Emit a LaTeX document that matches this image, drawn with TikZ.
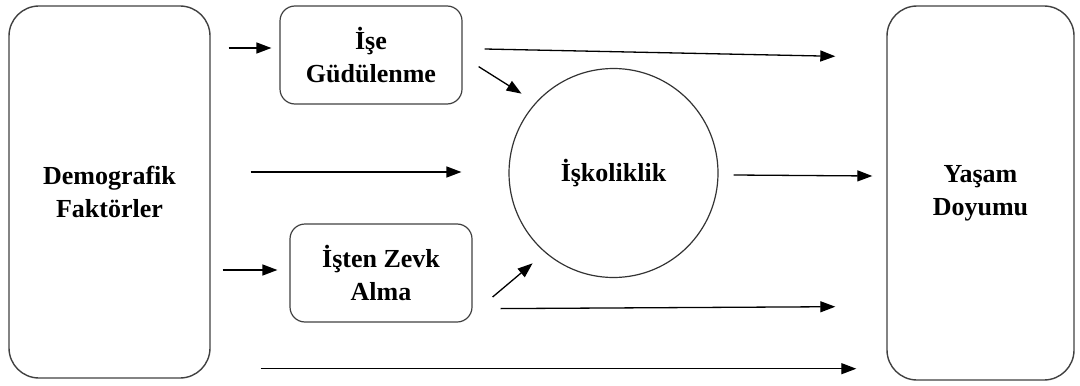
\documentclass[tikz,border=0pt]{standalone}
\usepackage{fontspec}
\setmainfont{Liberation Serif}
\usetikzlibrary{shapes.geometric, arrows.meta, positioning, calc}

\begin{document}
\begin{tikzpicture}[
    x=0.5pt, y=-0.5pt,
    label/.style={font=\fontsize{13}{16.5}\selectfont\bfseries, align=center},
    bigbox/.style={label, rectangle, rounded corners=15pt, draw=black!75, line width=0.7pt, minimum width=100.5pt, minimum height=186pt},
    smallbox/.style={label, rectangle, rounded corners=7.5pt, draw=black!75, line width=0.6pt, minimum width=91pt, minimum height=49pt},
    roundbox/.style={label, circle, draw=black!80, line width=0.6pt, minimum size=104.5pt},
    arrow/.style={-{Triangle[length=7.5pt, width=5.5pt]}, line width=0.65pt}
]
\useasboundingbox (0,0) rectangle (1080,385);

% Left and right
\node[bigbox] (demo) at (109.5,192) {Demografik\\Faktörler};
\node[bigbox, minimum width=93.5pt, minimum height=187pt] (yasam) at (980.5,193) {Yaşam\\Doyumu};

% Middle
\node[smallbox] (ise) at (371,55) {İşe\\Güdülenme};
\node[smallbox] (zevk) at (381,273) {İşten Zevk\\Alma};
\node[roundbox] (isk) at (613.5,173) {İşkoliklik};

% Arrows
\draw[arrow] ($(demo.east |- ise.west)+(9pt,3.5pt)$) -- ($(ise.west)+(-4pt,3.5pt)$);
\draw[arrow] ($(demo.east |- isk.west)+(20pt,0.5pt)$) -- ($(isk.west)+(-23.5pt,0.5pt)$);
\draw[arrow] ($(demo.east |- zevk.west)+(6pt,1.5pt)$) -- ($(zevk.west)+(-6pt,1.5pt)$);
\draw[arrow] ($(demo.south east)+(25pt,5pt)$) -- ($(yasam.south west)+(-15pt,6pt)$);
\draw[arrow] ($(ise.east)+(11pt,3pt)$) -- ($(yasam.north west)+(-25.5pt,-25.5pt)$);
\draw[arrow] ($(ise.south east)+(8pt,19pt)$) -- ($(isk.north west)+(-8.8pt,2.5pt)$);
\draw[arrow] ($(zevk.east)+(10pt,-12pt)$) -- ($(isk.south west)+(-3.3pt,-8pt)$);
\draw[arrow] ($(zevk.south east)+(14pt,7pt)$) -- ($(yasam.south west)+(-25.5pt,37pt)$);
\draw[arrow] ($(isk.east)+(7.5pt,-1pt)$) -- ($(yasam.west)+(-7pt,8.5pt)$);

\end{tikzpicture}
\end{document}
